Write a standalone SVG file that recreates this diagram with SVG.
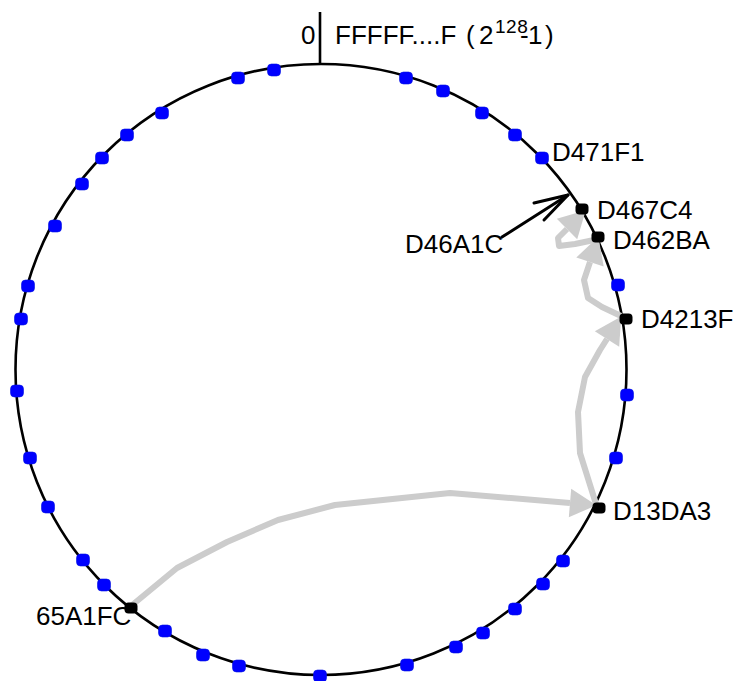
<svg xmlns="http://www.w3.org/2000/svg" width="735" height="681" viewBox="0 0 735 681">
<style>
text{font-family:"Liberation Sans",Arial,sans-serif;font-size:26px;fill:#000}
.ring{fill:none;stroke:#000;stroke-width:2.6}
.b{fill:#0000ff;stroke:#0010e0;stroke-width:0.6}
.k{fill:#000}
.g{fill:none;stroke:#cccccc;stroke-width:6;stroke-linejoin:round}
</style>
<defs>
<marker id="gh" markerUnits="userSpaceOnUse" orient="auto" refX="0" refY="0" markerWidth="30" markerHeight="30" viewBox="0 -13 24 26" overflow="visible">
<path d="M0,-12.5 L23,0 L0,12.5 z" fill="#cccccc"/>
</marker>
<rect id="bd" x="-6.5" y="-6" width="13" height="12" rx="4"/>
<rect id="kd" x="-6.5" y="-5.5" width="13" height="11" rx="4"/>
</defs>
<rect width="735" height="681" fill="#fff"/>
<g id="ring">
<circle class="ring" cx="321" cy="369.5" r="305.5"/>
<line x1="320" y1="12" x2="320" y2="64" stroke="#000" stroke-width="2.6"/>
</g>
<g id="top-label">
<text x="301" y="44">0</text>
<text x="335" y="44">FFFFF....F</text>
<text x="466" y="44">(</text>
<text x="479" y="44">2</text>
<text x="495" y="33" style="font-size:19px;letter-spacing:0.5px">128</text>
<text x="520" y="44">-</text>
<text x="528" y="44">1</text>
<text x="545" y="44">)</text>
</g>
<g id="connectors">
<polyline class="g" points="131,606 177,568 227,542 278,520 335,505 450,493 570,503" marker-end="url(#gh)"/>
<polyline class="g" points="596,504 580,453 578,412 585,377 600,350 607,339" marker-end="url(#gh)"/>
<polyline class="g" points="621,316 602,307 588,298 584,280 590,262" marker-end="url(#gh)"/>
<polyline class="g" points="594,240 575,244 559,246 558,238 567,229" marker-end="url(#gh)"/>
<g id="arrow-D46A1C" fill="none" stroke="#000" stroke-width="3" stroke-linecap="round" stroke-linejoin="round">
<line x1="502" y1="237" x2="568" y2="195"/>
<polyline points="534,203 568,195 544,220"/>
</g>
</g>
<g id="dots">
<use href="#bd" class="b" x="238" y="78"/>
<use href="#bd" class="b" x="274" y="70"/>
<use href="#bd" class="b" x="406" y="78"/>
<use href="#bd" class="b" x="443" y="91"/>
<use href="#bd" class="b" x="482" y="113"/>
<use href="#bd" class="b" x="515" y="135"/>
<use href="#bd" class="b" x="542" y="158"/>
<use href="#bd" class="b" x="618" y="285"/>
<use href="#bd" class="b" x="627" y="395"/>
<use href="#bd" class="b" x="616" y="458"/>
<use href="#bd" class="b" x="563" y="561"/>
<use href="#bd" class="b" x="543" y="584"/>
<use href="#bd" class="b" x="515" y="609"/>
<use href="#bd" class="b" x="483" y="633"/>
<use href="#bd" class="b" x="456" y="647"/>
<use href="#bd" class="b" x="407" y="665"/>
<use href="#bd" class="b" x="320" y="676"/>
<use href="#bd" class="b" x="162" y="113"/>
<use href="#bd" class="b" x="127" y="135"/>
<use href="#bd" class="b" x="102" y="158"/>
<use href="#bd" class="b" x="82" y="184"/>
<use href="#bd" class="b" x="55" y="226"/>
<use href="#bd" class="b" x="28" y="286"/>
<use href="#bd" class="b" x="21" y="319"/>
<use href="#bd" class="b" x="17" y="391"/>
<use href="#bd" class="b" x="30" y="458"/>
<use href="#bd" class="b" x="48" y="507"/>
<use href="#bd" class="b" x="83" y="560"/>
<use href="#bd" class="b" x="104" y="585"/>
<use href="#bd" class="b" x="165" y="631"/>
<use href="#bd" class="b" x="203" y="655"/>
<use href="#bd" class="b" x="239" y="666"/>
</g>
<g id="node-D471F1"><text x="552" y="161">D471F1</text></g>
<g id="node-D467C4"><use href="#kd" class="k" x="582" y="209"/><text x="597" y="219">D467C4</text></g>
<g id="node-D462BA"><use href="#kd" class="k" x="598" y="237"/><text x="613" y="249">D462BA</text></g>
<g id="node-D4213F"><use href="#kd" class="k" x="626" y="319"/><text x="641" y="328">D4213F</text></g>
<g id="node-D13DA3"><use href="#kd" class="k" x="599" y="508"/><text x="613" y="520">D13DA3</text></g>
<g id="node-65A1FC"><use href="#kd" class="k" x="131" y="608"/><text x="36" y="625">65A1FC</text></g>
<g id="node-D46A1C"><text x="405" y="253">D46A1C</text></g>
</svg>
